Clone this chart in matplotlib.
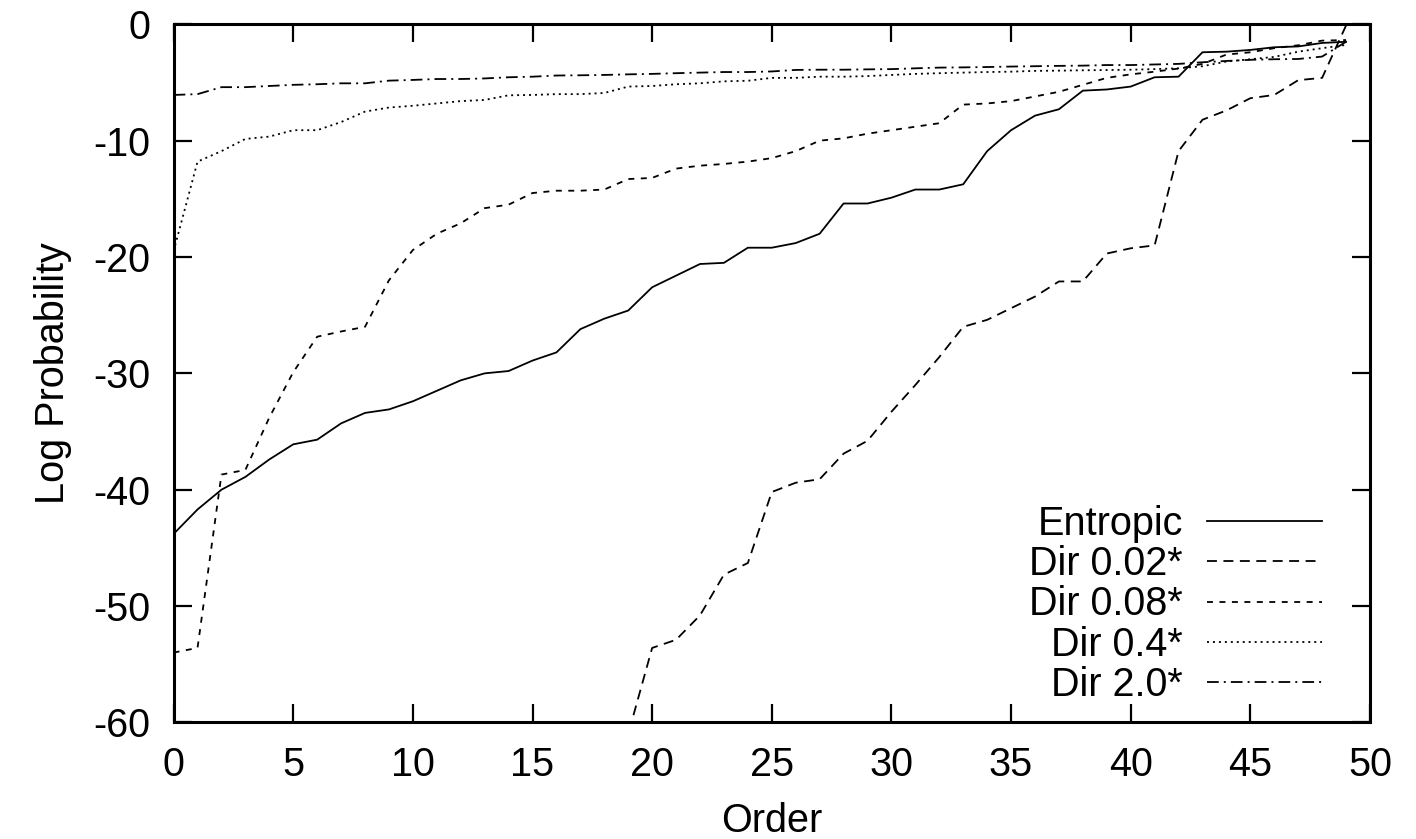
import matplotlib
matplotlib.use("Agg")
import matplotlib.pyplot as plt

# order index 0..49
order = list(range(50))

entropic = [-43.8, -41.7, -40.0, -38.9, -37.4, -36.1, -35.7, -34.3, -33.4, -33.1,
            -32.4, -31.5, -30.6, -30.0, -29.8, -28.9, -28.2, -26.2, -25.3, -24.6,
            -22.6, -21.6, -20.6, -20.5, -19.2, -19.2, -18.8, -18.0, -15.4, -15.4,
            -14.9, -14.2, -14.2, -13.75, -10.9, -9.1, -7.85, -7.3, -5.7, -5.6,
            -5.35, -4.55, -4.5, -2.4, -2.35, -2.2, -1.97, -1.9, -1.6, -1.5]

# first points fall below the visible range (clipped at -60)
dir_002 = [-112.0, -108.0, -104.0, -100.0, -97.0, -94.0, -91.0, -88.0, -85.0, -82.0,
           -79.0, -76.0, -74.0, -72.0, -70.0, -68.0, -66.0, -64.0, -62.5, -61.0,
           -53.6, -52.9, -50.8, -47.3, -46.3, -40.2, -39.4, -39.1, -36.9, -35.8,
           -33.3, -31.0, -28.6, -26.0, -25.4, -24.4, -23.4, -22.1, -22.1, -19.7,
           -19.25, -19.0, -10.9, -8.2, -7.4, -6.35, -6.07, -4.8, -4.6, -0.1]

dir_008 = [-54.0, -53.6, -38.7, -38.3, -33.8, -29.9, -26.85, -26.4, -26.0, -22.0,
           -19.4, -18.0, -17.1, -15.8, -15.5, -14.5, -14.3, -14.3, -14.2, -13.3,
           -13.2, -12.4, -12.15, -12.0, -11.8, -11.5, -10.9, -10.0, -9.8, -9.4,
           -9.1, -8.8, -8.5, -6.9, -6.8, -6.6, -6.2, -5.8, -5.2, -4.6,
           -4.3, -4.07, -3.8, -3.4, -2.6, -2.4, -2.05, -1.8, -1.4, -1.35]

dir_04 = [-19.5, -11.8, -10.9, -9.85, -9.65, -9.1, -9.1, -8.4, -7.5, -7.15,
          -7.0, -6.8, -6.6, -6.5, -6.1, -6.07, -6.0, -6.0, -5.9, -5.35,
          -5.3, -5.15, -5.07, -4.9, -4.85, -4.6, -4.6, -4.5, -4.5, -4.45,
          -4.35, -4.26, -4.2, -4.15, -4.1, -4.07, -4.0, -3.98, -3.95, -3.93,
          -3.9, -3.85, -3.78, -3.6, -3.2, -3.0, -2.8, -2.35, -2.05, -1.77]

dir_20 = [-6.07, -6.0, -5.4, -5.4, -5.3, -5.2, -5.15, -5.07, -5.07, -4.84,
          -4.78, -4.7, -4.7, -4.65, -4.55, -4.5, -4.4, -4.38, -4.35, -4.3,
          -4.26, -4.2, -4.15, -4.1, -4.1, -4.05, -3.92, -3.9, -3.9, -3.87,
          -3.85, -3.78, -3.72, -3.7, -3.67, -3.63, -3.6, -3.57, -3.55, -3.5,
          -3.5, -3.45, -3.4, -3.26, -3.15, -3.05, -3.0, -2.98, -2.77, -1.5]

labels = ["Entropic", "Dir 0.02*", "Dir 0.08*", "Dir 0.4*", "Dir 2.0*"]

plt.rcParams['font.family'] = ['Liberation Sans', 'DejaVu Sans']
plt.rcParams['font.size'] = 28.5
plt.rcParams['axes.unicode_minus'] = False

fig = plt.figure(figsize=(14.16, 8.39), dpi=100)
ax = fig.add_axes([0.1226, 0.139, 0.8449, 0.8320])

lw = 1.3
ax.plot(order, entropic, color='black', lw=lw, linestyle='-', label=labels[0])
ax.plot(order, dir_002, color='black', lw=lw, linestyle=(0, (5.5, 3.6)), label=labels[1])
ax.plot(order, dir_008, color='black', lw=lw, linestyle=(0, (3.3, 3.6)), label=labels[2])
ax.plot(order, dir_04, color='black', lw=lw, linestyle=(0, (1.1, 2.2)), label=labels[3])
ax.plot(order, dir_20, color='black', lw=lw, linestyle=(0, (6.5, 2.8, 1.1, 2.8)), label=labels[4])

ax.set_xlim(0, 50)
ax.set_ylim(-60, 0)
ax.set_xticks(range(0, 51, 5))
ax.set_yticks(range(-60, 1, 10))
ax.set_xlabel("Order", labelpad=13)
ax.set_ylabel("Log Probability", labelpad=15)

for s in ax.spines.values():
    s.set_linewidth(2.2)
ax.tick_params(direction='in', length=13, width=1.6, top=True, right=True, pad=17)

ax.legend(loc='lower right', bbox_to_anchor=(0.96, 0.026), frameon=False,
          markerfirst=False, handlelength=2.9, handletextpad=0.62,
          labelspacing=0.06, borderpad=0, borderaxespad=0)

fig.savefig("out.png", dpi=100)
